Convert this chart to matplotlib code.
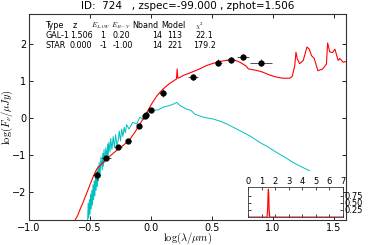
import numpy as np
import matplotlib
matplotlib.use('Agg')
import matplotlib.pyplot as plt

plt.rcParams['mathtext.fontset'] = 'cm'
plt.rcParams['font.family'] = ['DejaVu Sans']

# photometry (log lambda, log flux)
obs_x = [-0.445, -0.369, -0.268, -0.186, -0.098, -0.052, -0.040, -0.003, 0.096, 0.347, 0.552, 0.653, 0.757, 0.902]
obs_y = [-1.54, -1.08, -0.78, -0.63, -0.22, 0.04, 0.08, 0.22, 0.67, 1.10, 1.49, 1.55, 1.63, 1.49]
obs_xerr = [0.03, 0.04, 0.03, 0.02, 0.02, 0.01, 0.01, 0.02, 0.03, 0.04, 0.03, 0.04, 0.05, 0.09]
obs_yerr = [0.12, 0.06, 0.05, 0.05, 0.04, 0.04, 0.04, 0.04, 0.10, 0.08, 0.10, 0.08, 0.08, 0.09]

# galaxy template
gal_x = [-0.63, -0.60, -0.58, -0.56, -0.53, -0.50, -0.47, -0.445, -0.40, -0.363, -0.32, -0.268, -0.22,
         -0.172, -0.13, -0.09, -0.05, 0.006, 0.05, 0.10, 0.15, 0.21, 0.215, 0.22, 0.225, 0.27, 0.333,
         0.40, 0.456, 0.51, 0.566, 0.62, 0.67, 0.73, 0.78, 0.80, 0.85, 0.89, 0.92, 0.97, 1.03, 1.08,
         1.14, 1.16, 1.18, 1.19, 1.20, 1.22, 1.25, 1.28, 1.30, 1.317, 1.34, 1.37, 1.41, 1.44, 1.45,
         1.467, 1.49, 1.51, 1.536, 1.55, 1.577, 1.60]
gal_y = [-2.80, -2.62, -2.45, -2.30, -2.05, -1.80, -1.55, -1.38, -1.22, -1.10, -0.98, -0.84, -0.72,
         -0.57, -0.38, -0.16, 0.05, 0.38, 0.60, 0.78, 0.92, 1.05, 1.32, 1.08, 1.07, 1.15, 1.23,
         1.32, 1.41, 1.47, 1.52, 1.55, 1.58, 1.50, 1.40, 1.32, 1.29, 1.26, 1.23, 1.16, 1.10, 1.07,
         1.07, 1.12, 1.41, 1.77, 1.60, 1.46, 1.55, 1.91, 1.85, 1.68, 1.60, 1.27, 1.32, 1.45, 2.02,
         1.78, 1.76, 1.85, 1.55, 1.60, 1.50, 1.52]

# star template
star_x = [-0.52, -0.515, -0.51, -0.505, -0.50, -0.495, -0.49, -0.485, -0.48, -0.475, -0.47, -0.465,
          -0.46, -0.455, -0.45, -0.445, -0.44, -0.435, -0.43, -0.425, -0.418, -0.41, -0.40, -0.395,
          -0.39, -0.385, -0.38, -0.37, -0.36, -0.355, -0.35, -0.345, -0.336, -0.33, -0.32, -0.31,
          -0.30, -0.29, -0.28, -0.268, -0.26, -0.25, -0.24, -0.23, -0.22, -0.21, -0.20, -0.18,
          -0.15, -0.117, -0.09, -0.06, -0.03, 0.019, 0.06, 0.10, 0.15, 0.19, 0.21, 0.24, 0.29,
          0.33, 0.36, 0.43, 0.51, 0.56, 0.62, 0.68, 0.757, 0.82, 0.893, 0.96, 1.03, 1.10, 1.166,
          1.23, 1.30]
star_y = [-2.80, -2.30, -2.70, -2.20, -2.60, -2.05, -2.45, -1.95, -2.35, -1.80, -2.20, -1.70,
          -2.10, -1.55, -1.95, -1.45, -1.85, -1.30, -1.70, -1.20, -1.60, -1.05, -1.40, -0.95,
          -1.30, -0.85, -1.20, -0.80, -1.10, -0.70, -1.00, -0.65, -0.92, -0.55, -0.85, -0.50,
          -0.80, -0.45, -0.72, -0.60, -0.35, -0.62, -0.30, -0.50, -0.25, -0.40, -0.18, -0.30,
          -0.12, -0.16, 0.02, -0.05, 0.15, 0.20, 0.22, 0.29, 0.33, 0.38, 0.42, 0.33, 0.24,
          0.20, 0.10, 0.02, -0.03, -0.08, -0.16, -0.26, -0.39, -0.50, -0.66, -0.78, -0.93, -1.06, -1.20,
          -1.31, -1.42]

# photo-z probability
pz_x = [0.0, 1.40, 1.45, 1.48, 1.50, 1.52, 1.55, 1.60, 7.0]
pz_y = [0.0, 0.0, 0.35, 0.85, 0.98, 0.85, 0.30, 0.0, 0.0]

table_rows = [
    ['Type', 'z', '$E_{LAW}$', '$E_{B-V}$', 'Nband', 'Model', '$\\chi^2$'],
    ['GAL-1', '1.506', '1', '0.20', '14', '113', '22.1'],
    ['STAR', '0.000', '-1', '-1.00', '14', '221', '179.2'],
]

fig = plt.figure(figsize=(3.68, 2.45), dpi=100)
ax = fig.add_axes([0.079, 0.102, 0.861, 0.841])
ax.plot(star_x, star_y, color='#00bfbf', lw=0.7)
ax.plot(gal_x, gal_y, color='red', lw=0.8)
ax.errorbar(obs_x, obs_y, xerr=obs_xerr, yerr=obs_yerr, fmt='o', color='black',
            ms=3.5, elinewidth=0.6, ecolor='#333333', capsize=0, zorder=5)
ax.set_xlim(-1.0, 1.6)
ax.set_ylim(-2.75, 2.8)
ax.set_xticks([-1.0, -0.5, 0.0, 0.5, 1.0, 1.5])
ax.set_yticks([-2, -1, 0, 1, 2])
ax.set_yticklabels(['\u22122', '\u22121', '0', '1', '2'])
ax.set_xticklabels(['\u22121.0', '\u22120.5', '0.0', '0.5', '1.0', '1.5'])
ax.tick_params(direction='in', labelsize=7, length=3, width=0.6, pad=2, top=True, right=True)
for s in ax.spines.values():
    s.set_linewidth(0.8)
    s.set_color('#333333')
ax.set_xlabel('$\\log(\\lambda/\\mu m)$', fontsize=7.5)
ax.xaxis.set_label_coords(0.5, -0.054)
ax.set_ylabel('$\\log(F_\\nu/\\mu Jy)$', fontsize=7.5)
ax.yaxis.set_label_coords(-0.045, 0.5)
fig.suptitle('ID:  724   , zspec=-99.000 , zphot=1.506', fontsize=7.5, x=0.51, y=0.995)

col_x = [45, 73, 91, 111, 132, 161, 195]
val_x = [45, 70, 100, 113, 152, 167, 195]
row_y = [26, 36, 45]
for r, row in enumerate(table_rows):
    for c, txt in enumerate(row):
        x = col_x[c] if r == 0 else val_x[c]
        if r > 0 and c == 6 and len(txt) > 4:
            x = 193
        size = 5 if txt.startswith('$') else 5.8
        fig.text(x / 368, 1 - row_y[r] / 245, txt, fontsize=size, ha='left', va='center')

ins = fig.add_axes([0.674, 0.114, 0.258, 0.122])
ins.fill_between(pz_x, pz_y, color='#f4b0b0', lw=0)
ins.plot(pz_x, pz_y, color='red', lw=0.8)
ins.set_xlim(0, 7)
ins.set_ylim(0, 1.05)
ins.set_xticks(range(8))
ins.set_yticks([0.25, 0.5, 0.75])
ins.set_yticklabels(['0.25', '0.50', '0.75'])
ins.xaxis.tick_top()
ins.yaxis.tick_right()
ins.tick_params(direction='in', labelsize=6, length=2, width=0.5, pad=1, bottom=True, left=True)
for s in ins.spines.values():
    s.set_linewidth(0.6)
    s.set_color('#333333')

fig.savefig('out.png', dpi=100)
